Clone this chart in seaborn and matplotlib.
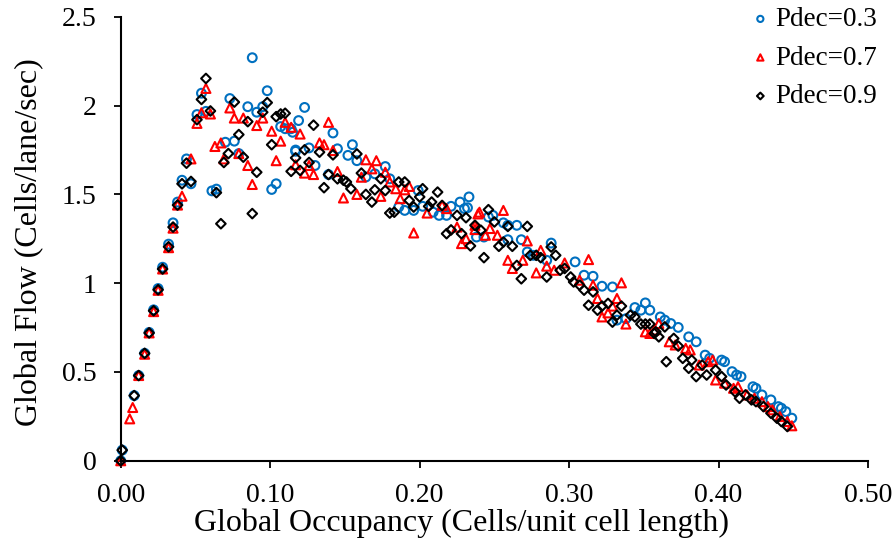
import seaborn as sns
import matplotlib.pyplot as plt
import pandas as pd
from matplotlib.ticker import FuncFormatter

# values
occ_03 = [0.000, 0.001, 0.009, 0.012, 0.016, 0.019, 0.022, 0.025, 0.028, 0.032,
          0.035, 0.038, 0.041, 0.044, 0.047, 0.051, 0.054, 0.057, 0.061, 0.064,
          0.070, 0.073, 0.076, 0.079, 0.085, 0.088, 0.091, 0.095, 0.098, 0.101,
          0.104, 0.107, 0.110, 0.114, 0.115, 0.117, 0.117, 0.119, 0.123, 0.126,
          0.130, 0.139, 0.142, 0.145, 0.152, 0.155, 0.158, 0.164, 0.170, 0.177,
          0.180, 0.186, 0.190, 0.196, 0.199, 0.202, 0.209, 0.213, 0.218, 0.221,
          0.227, 0.230, 0.233, 0.232, 0.238, 0.243, 0.246, 0.249, 0.256, 0.259,
          0.265, 0.259, 0.268, 0.272, 0.276, 0.288, 0.285, 0.304, 0.310, 0.316,
          0.322, 0.329, 0.332, 0.338, 0.344, 0.348, 0.351, 0.354, 0.361, 0.364,
          0.368, 0.373, 0.380, 0.385, 0.391, 0.394, 0.402, 0.404, 0.409, 0.412,
          0.415, 0.423, 0.425, 0.429, 0.435, 0.440, 0.442, 0.445, 0.449]
flow_03 = [0.000, 0.060, 0.367, 0.480, 0.605, 0.723, 0.850, 0.970, 1.090, 1.220,
           1.340, 1.457, 1.580, 1.700, 1.560, 1.950, 2.070, 1.968, 1.520, 1.530,
           1.794, 2.040, 1.800, 1.730, 1.994, 2.270, 1.963, 1.994, 2.084, 1.528,
           1.560, 1.882, 1.870, 1.870, 1.850, 1.750, 1.743, 1.916, 1.990, 1.762,
           1.663, 1.612, 1.846, 1.757, 1.720, 1.780, 1.690, 1.598, 1.616, 1.657,
           1.588, 1.429, 1.410, 1.410, 1.522, 1.433, 1.400, 1.382, 1.382, 1.433,
           1.457, 1.420, 1.486, 1.425, 1.260, 1.260, 1.373, 1.382, 1.340, 1.326,
           1.326, 1.245, 1.245, 1.176, 1.157, 1.226, 1.129, 1.120, 1.045, 1.039,
           0.983, 0.979, 0.792, 0.800, 0.863, 0.848, 0.889, 0.848, 0.810, 0.792,
           0.773, 0.751, 0.698, 0.670, 0.595, 0.577, 0.567, 0.558, 0.502, 0.483,
           0.474, 0.417, 0.408, 0.371, 0.343, 0.305, 0.296, 0.277, 0.240]

occ_07 = [0.000, 0.006, 0.008, 0.012, 0.016, 0.019, 0.022, 0.025, 0.028, 0.032,
          0.035, 0.038, 0.041, 0.047, 0.051, 0.054, 0.057, 0.060, 0.063, 0.067,
          0.069, 0.073, 0.076, 0.079, 0.082, 0.085, 0.088, 0.091, 0.095, 0.101,
          0.104, 0.107, 0.110, 0.114, 0.117, 0.120, 0.123, 0.126, 0.129, 0.133,
          0.136, 0.139, 0.142, 0.145, 0.149, 0.158, 0.161, 0.164, 0.168, 0.171,
          0.174, 0.177, 0.180, 0.184, 0.187, 0.190, 0.193, 0.196, 0.205, 0.215,
          0.218, 0.225, 0.228, 0.231, 0.237, 0.239, 0.240, 0.237, 0.244, 0.247,
          0.252, 0.256, 0.259, 0.262, 0.269, 0.272, 0.278, 0.281, 0.285, 0.290,
          0.297, 0.307, 0.313, 0.316, 0.319, 0.322, 0.326, 0.329, 0.332, 0.335,
          0.338, 0.351, 0.354, 0.357, 0.360, 0.367, 0.371, 0.378, 0.381, 0.387,
          0.393, 0.396, 0.398, 0.404, 0.410, 0.413, 0.419, 0.424, 0.429, 0.433,
          0.436, 0.441, 0.446, 0.449]
flow_07 = [0.000, 0.236, 0.300, 0.480, 0.600, 0.720, 0.840, 0.960, 1.080, 1.200,
           1.310, 1.440, 1.490, 1.700, 1.900, 1.960, 2.097, 1.953, 1.770, 1.790,
           1.700, 1.987, 1.930, 1.730, 1.930, 1.663, 1.556, 1.888, 1.930, 1.856,
           1.690, 1.800, 1.906, 1.878, 1.667, 1.840, 1.620, 1.663, 1.612, 1.790,
           1.780, 1.906, 1.747, 1.629, 1.480, 1.500, 1.597, 1.695, 1.644, 1.690,
           1.489, 1.625, 1.570, 1.532, 1.476, 1.526, 1.545, 1.283, 1.395, 1.438,
           1.420, 1.316, 1.223, 1.251, 1.326, 1.390, 1.400, 1.302, 1.270, 1.308,
           1.270, 1.410, 1.129, 1.083, 1.129, 1.238, 1.058, 1.185, 1.096, 1.073,
           1.114, 1.017, 1.133, 0.989, 0.914, 0.810, 0.833, 0.871, 0.914, 1.002,
           0.770, 0.726, 0.717, 0.736, 0.773, 0.670, 0.652, 0.633, 0.624, 0.539,
           0.558, 0.567, 0.455, 0.437, 0.408, 0.417, 0.371, 0.352, 0.333, 0.305,
           0.287, 0.249, 0.221, 0.197]

occ_09 = [0.000, 0.001, 0.009, 0.012, 0.016, 0.019, 0.022, 0.025, 0.028, 0.032,
          0.035, 0.038, 0.041, 0.044, 0.047, 0.051, 0.054, 0.057, 0.060, 0.064,
          0.067, 0.069, 0.072, 0.076, 0.079, 0.082, 0.085, 0.088, 0.091, 0.095,
          0.098, 0.101, 0.104, 0.107, 0.110, 0.114, 0.117, 0.120, 0.123, 0.126,
          0.129, 0.133, 0.136, 0.139, 0.142, 0.145, 0.149, 0.151, 0.154, 0.158,
          0.161, 0.164, 0.168, 0.170, 0.174, 0.177, 0.180, 0.183, 0.186, 0.190,
          0.193, 0.196, 0.200, 0.202, 0.206, 0.208, 0.212, 0.215, 0.218, 0.221,
          0.225, 0.228, 0.231, 0.234, 0.237, 0.241, 0.246, 0.250, 0.243, 0.253,
          0.256, 0.259, 0.262, 0.265, 0.268, 0.272, 0.274, 0.278, 0.281, 0.288,
          0.291, 0.285, 0.294, 0.297, 0.301, 0.303, 0.307, 0.310, 0.316, 0.313,
          0.319, 0.322, 0.326, 0.329, 0.332, 0.335, 0.341, 0.344, 0.348, 0.351,
          0.354, 0.357, 0.358, 0.360, 0.365, 0.364, 0.370, 0.373, 0.376, 0.380,
          0.385, 0.382, 0.389, 0.392, 0.398, 0.402, 0.405, 0.411, 0.414, 0.418,
          0.422, 0.425, 0.430, 0.435, 0.439, 0.442, 0.446]
flow_09 = [0.000, 0.060, 0.367, 0.480, 0.605, 0.720, 0.845, 0.963, 1.080, 1.205,
           1.316, 1.440, 1.560, 1.676, 1.573, 1.921, 2.035, 2.153, 1.970, 1.510,
           1.335, 1.680, 1.730, 2.020, 1.837, 1.710, 1.910, 1.392, 1.625, 1.963,
           2.017, 1.780, 1.938, 1.953, 1.957, 1.630, 1.706, 1.635, 1.751, 1.680,
           1.890, 1.738, 1.538, 1.612, 1.723, 1.588, 1.580, 1.570, 1.532, 1.728,
           1.620, 1.500, 1.457, 1.526, 1.588, 1.522, 1.395, 1.400, 1.570, 1.570,
           1.466, 1.429, 1.486, 1.532, 1.433, 1.457, 1.513, 1.438, 1.279, 1.300,
           1.382, 1.279, 1.369, 1.210, 1.326, 1.298, 1.414, 1.345, 1.144, 1.208,
           1.232, 1.320, 1.208, 1.100, 1.025, 1.320, 1.157, 1.157, 1.144, 1.204,
           1.157, 1.035, 1.073, 1.083, 1.035, 1.007, 0.989, 0.961, 0.951, 0.876,
           0.848, 0.871, 0.886, 0.781, 0.820, 0.871, 0.820, 0.810, 0.770, 0.770,
           0.770, 0.717, 0.726, 0.698, 0.558, 0.754, 0.689, 0.646, 0.577, 0.521,
           0.474, 0.567, 0.539, 0.483, 0.511, 0.474, 0.427, 0.389, 0.352, 0.371,
           0.343, 0.333, 0.305, 0.268, 0.240, 0.221, 0.193]

x_ticks = [0.0, 0.1, 0.2, 0.3, 0.4, 0.5]
y_ticks = [0, 0.5, 1.0, 1.5, 2.0, 2.5]

sns.set_style("ticks")
plt.rcParams['font.family'] = ['Liberation Serif', 'DejaVu Serif']
plt.rcParams['text.color'] = 'black'
plt.rcParams['axes.labelcolor'] = 'black'
plt.rcParams['xtick.color'] = 'black'
plt.rcParams['ytick.color'] = 'black'

fig = plt.figure(figsize=(8.95, 5.44), dpi=100)
ax = fig.add_axes([0.1349, 0.153, 0.835, 0.816])

series = [
    ("Pdec=0.3", occ_03, flow_03, "#0070C0", "o", 40),
    ("Pdec=0.7", occ_07, flow_07, "#FF0000", "^", 42),
    ("Pdec=0.9", occ_09, flow_09, "#000000", "D", 24),
]
for label, xs, ys, col, mk, size in series:
    df = pd.DataFrame({"occ": xs, "flow": ys})
    sns.scatterplot(data=df, x="occ", y="flow", ax=ax, marker=mk, s=size,
                    color=col, facecolor="none", edgecolor=col,
                    linewidth=1.5, label=label, clip_on=False)

ax.set_xlim(0, 0.5)
ax.set_ylim(0, 2.5)
ax.set_xticks(x_ticks)
ax.set_yticks(y_ticks)
ax.xaxis.set_major_formatter(FuncFormatter(lambda v, p: f"{v:.2f}"))
ax.yaxis.set_major_formatter(FuncFormatter(lambda v, p: f"{v:g}"))
ax.tick_params(direction="out", length=5, width=1.3, labelsize=20)
ax.tick_params(axis="x", pad=11)
ax.tick_params(axis="y", pad=12.5)
for s in ["left", "bottom"]:
    ax.spines[s].set_linewidth(1.5)
    ax.spines[s].set_color("black")
sns.despine(ax=ax)

ax.set_xlabel("Global Occupancy (Cells/unit cell length)", fontsize=23)
ax.set_ylabel("Global Flow (Cells/lane/sec)", fontsize=23)
ax.xaxis.set_label_coords(0.456, -0.108)
ax.yaxis.set_label_coords(-0.103, 0.493)

ax.legend(loc="upper right", bbox_to_anchor=(0.995, 1.012),
          bbox_transform=fig.transFigure, frameon=False, fontsize=19.5,
          markerscale=0.7, handletextpad=0.05, labelspacing=0.5,
          borderaxespad=0.1, handlelength=1.0)

fig.savefig("out.png", dpi=100)
